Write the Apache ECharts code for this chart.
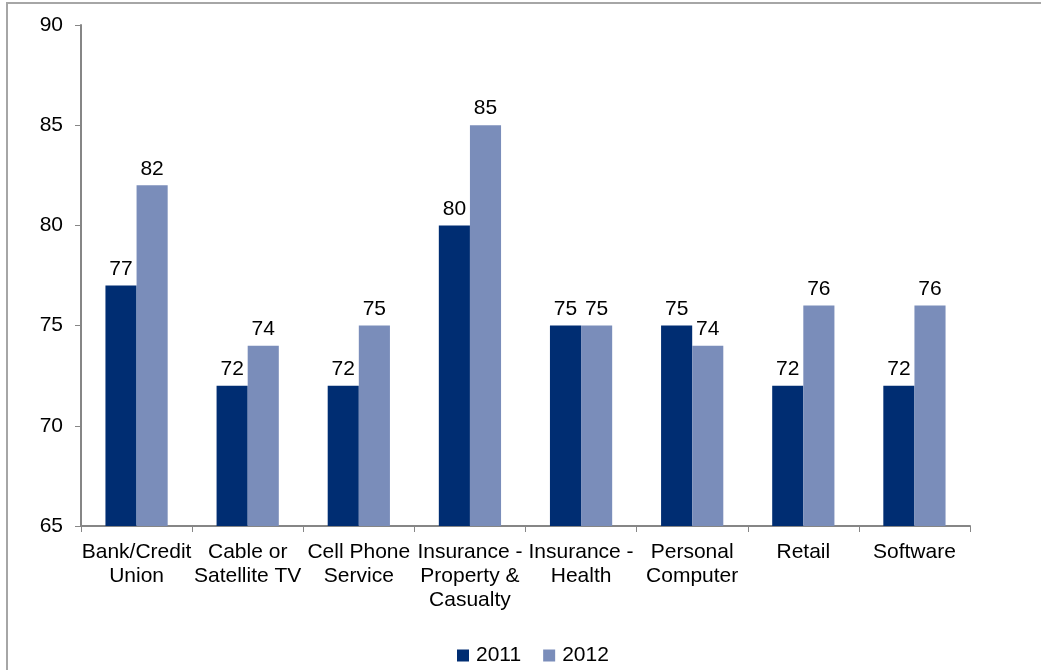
<!DOCTYPE html>
<html>
<head>
<meta charset="utf-8">
<script src="https://cdn.jsdelivr.net/npm/echarts@6/dist/echarts.min.js"></script>
<style>
  html, body { margin: 0; padding: 0; background: #fff; }
  #chart { width: 1041px; height: 670px; }
</style>
</head>
<body>
<div id="chart"></div>
<script>
// categories and values
var categories = [
  "Bank/Credit\nUnion",
  "Cable or\nSatellite TV",
  "Cell Phone\nService",
  "Insurance -\nProperty &\nCasualty",
  "Insurance -\nHealth",
  "Personal\nComputer",
  "Retail",
  "Software"
];
var values2011 = [77, 72, 72, 80, 75, 75, 72, 72];
var values2012 = [82, 74, 75, 85, 75, 74, 76, 76];

var FONT = "Liberation Sans, Arial, sans-serif";
var AXIS_COLOR = "#868686";

var chart = echarts.init(document.getElementById("chart"));
var option = {
  backgroundColor: "#fff",
  animation: false,
  textStyle: { fontFamily: FONT },
  // outer frame of the original picture
  graphic: [{
    type: "rect",
    silent: true,
    shape: { x: 7, y: 3, width: 1100, height: 720 },
    style: { fill: "none", stroke: "#a6a6a6", lineWidth: 2 }
  }],
  grid: {
    left: 81,
    right: 71,
    top: 25,
    bottom: 144
  },
  legend: {
    data: ["2011", "2012"],
    top: 640,
    left: 452,
    icon: "rect",
    itemWidth: 12,
    itemHeight: 12,
    itemGap: 22,
    textStyle: { fontFamily: FONT, fontSize: 21, color: "#000", padding: [0, 0, 0, 2] }
  },
  xAxis: {
    type: "category",
    data: categories,
    axisLine: { lineStyle: { color: AXIS_COLOR, width: 2 } },
    axisTick: { show: true, length: 6, lineStyle: { color: AXIS_COLOR, width: 1 } },
    axisLabel: {
      interval: 0,
      margin: 14,
      color: "#000",
      fontFamily: FONT,
      fontSize: 21,
      lineHeight: 24
    },
    splitLine: { show: false }
  },
  yAxis: {
    type: "value",
    min: 65,
    max: 90,
    interval: 5,
    axisLine: { show: true, lineStyle: { color: AXIS_COLOR, width: 2 } },
    axisTick: { show: true, length: 6, lineStyle: { color: AXIS_COLOR, width: 1 } },
    axisLabel: {
      margin: 18,
      color: "#000",
      fontFamily: FONT,
      fontSize: 21
    },
    splitLine: { show: false }
  },
  series: [
    {
      name: "2011",
      type: "bar",
      data: values2011,
      barGap: "0%",
      barCategoryGap: "44%",
      itemStyle: { color: "#002D72" },
      label: {
        show: true,
        position: "top",
        distance: 6,
        color: "#000",
        fontFamily: FONT,
        fontSize: 21
      }
    },
    {
      name: "2012",
      type: "bar",
      data: values2012,
      barGap: "0%",
      barCategoryGap: "44%",
      itemStyle: { color: "#7A8DBA" },
      label: {
        show: true,
        position: "top",
        distance: 6,
        color: "#000",
        fontFamily: FONT,
        fontSize: 21
      }
    }
  ]
};
chart.setOption(option);
window.addEventListener("resize", function() {
  chart.resize();
});
</script>
</body>
</html>
